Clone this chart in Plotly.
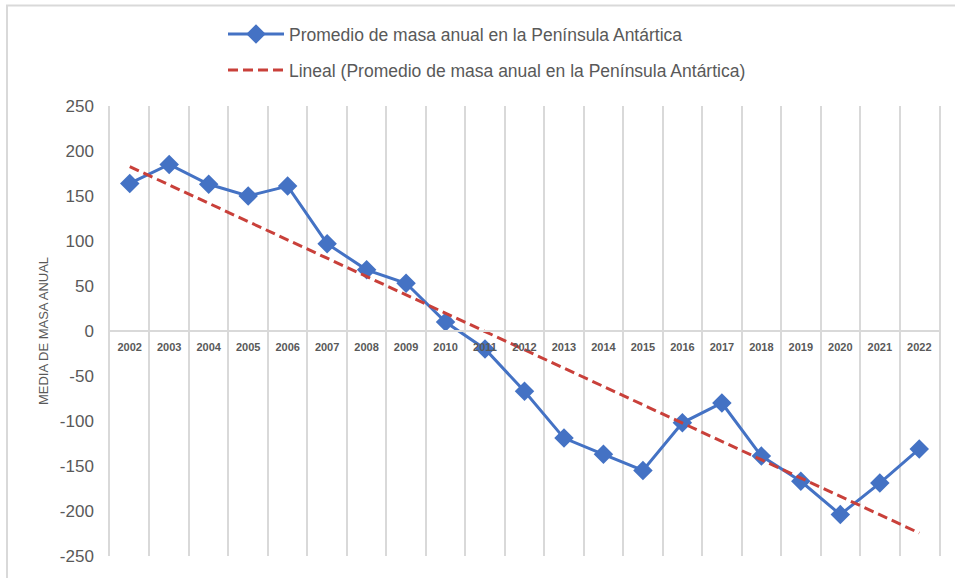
import numpy as np
import plotly.graph_objects as go

years = [str(y) for y in range(2002, 2023)]
masa = [164, 185, 163, 150, 161, 97, 68, 53, 10, -20, -67, -119, -137, -155,
        -102, -80, -139, -167, -204, -169, -131]
serie_nombre = "Promedio de masa anual en la Península Antártica"
tendencia_nombre = "Lineal (Promedio de masa anual en la Península Antártica)"
y_ticks = [250, 200, 150, 100, 50, 0, -50, -100, -150, -200, -250]
y_tick_text = ["250", "200", "150", "100", "50", "0", "-50", "-100", "-150", "-200", "-250"]

x_idx = np.arange(len(years))
coef = np.polyfit(x_idx, masa, 1)
trend = np.polyval(coef, x_idx)

GRID = "#D9D9D9"
TXT = "#595959"
FONT = "Liberation Sans, Arial, sans-serif"

fig = go.Figure()
fig.add_trace(go.Scatter(
    x=x_idx, y=masa, mode="lines+markers", name=serie_nombre,
    line=dict(color="#4472C4", width=3),
    marker=dict(symbol="diamond", size=15, color="#4472C4"),
    legend="legend",
))
fig.add_trace(go.Scatter(
    x=x_idx, y=trend, mode="lines", name=tendencia_nombre,
    line=dict(color="#C9403A", width=3, dash="10px,5px"),
    legend="legend2",
))

W, H = 955, 578
L, R, T, B = 110, 16, 106, 22
pw, ph = W - L - R, H - T - B


def px_x(v):
    return (v - L) / pw


def px_y(v):
    return (H - B - v) / ph


leg_common = dict(
    orientation="v", xanchor="left", yanchor="middle",
    font=dict(size=17.5, color=TXT, family=FONT),
    itemwidth=56, bgcolor="rgba(0,0,0,0)", borderwidth=0,
)

fig.update_layout(
    width=W, height=H,
    margin=dict(l=L, r=R, t=T, b=B, autoexpand=False),
    paper_bgcolor="white", plot_bgcolor="white",
    font=dict(family=FONT, color=TXT),
    showlegend=True,
    legend=dict(x=px_x(223), y=px_y(34), **leg_common),
    legend2=dict(x=px_x(223), y=px_y(70), **leg_common),
    xaxis=dict(
        range=[-0.5, len(years) - 0.5],
        tickmode="array", tickvals=list(x_idx), ticktext=years,
        tickfont=dict(size=11, color=TXT, family=FONT, weight="bold"),
        showgrid=False, zeroline=False,
        anchor="free", position=0.5,
        showline=True, linecolor=GRID, linewidth=1.5,
        ticks="", ticklabelstandoff=6,
        minor=dict(tickvals=[i - 0.5 for i in range(len(years) + 1)],
                   showgrid=True, gridcolor=GRID, gridwidth=1.5, ticks=""),
    ),
    yaxis=dict(
        range=[-250, 250], tickmode="array", tickvals=y_ticks, ticktext=y_tick_text,
        tickfont=dict(size=17, color=TXT, family=FONT),
        showgrid=False, zeroline=False,
        showline=True, linecolor=GRID, linewidth=1.5, mirror=True,
        ticklabelstandoff=11,
        title=dict(text="MEDIA DE MASA ANUAL", font=dict(size=13, color=TXT, family=FONT), standoff=8),
    ),
    shapes=[dict(type="rect", xref="paper", yref="paper",
                 x0=px_x(7), x1=px_x(980),
                 y0=px_y(600), y1=px_y(5.5),
                 line=dict(color=GRID, width=2), fillcolor="rgba(0,0,0,0)",
                 layer="below")],
)

fig.write_html("out.html", config={"displayModeBar": False},
               post_script="document.body.style.margin='0';")
